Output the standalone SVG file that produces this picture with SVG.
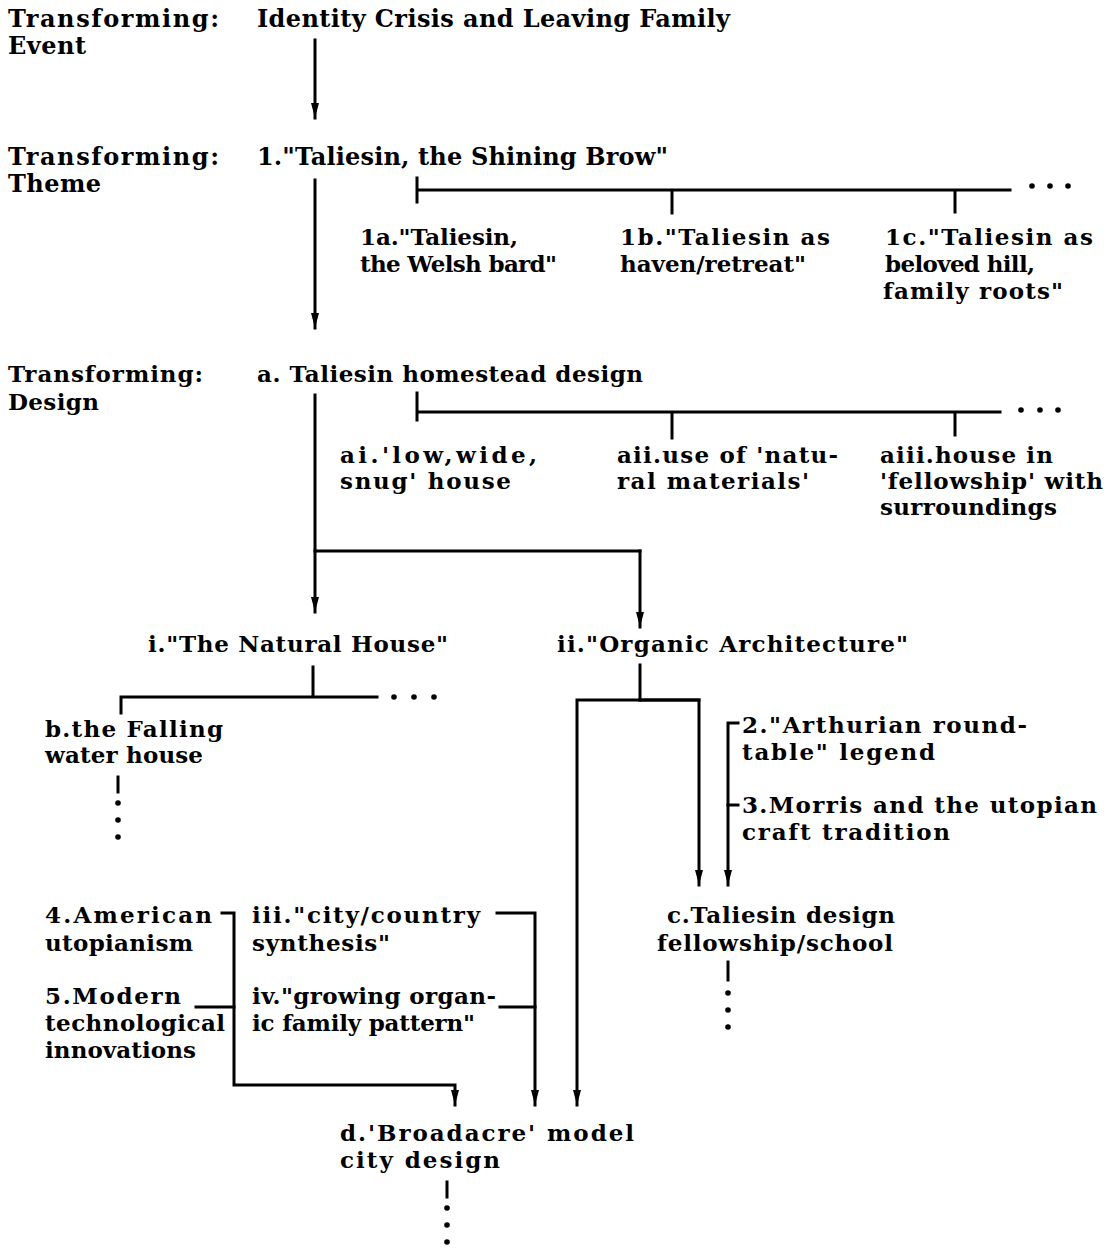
<svg xmlns="http://www.w3.org/2000/svg" width="1112" height="1250" viewBox="0 0 1112 1250">
  <style>
    .t { font-family: "DejaVu Serif", "Liberation Serif", serif; font-weight: bold; font-size: 23px; fill: #000; }
    .h { font-size: 24px; }
    .ln { fill: none; stroke: #000; stroke-width: 3; stroke-linecap: square; stroke-linejoin: miter; }
    .arr { marker-end: url(#ah); }
    .dot { fill: #000; }
  </style>
  <defs>
    <marker id="ah" viewBox="0 -5 16 10" markerWidth="16" markerHeight="10" refX="15" refY="0" orient="auto" markerUnits="userSpaceOnUse">
      <path d="M0,-4 L15,0 L0,4 z" fill="#000"/>
    </marker>
  </defs>
  <rect width="1112" height="1250" fill="#fff"/>

  <!-- row labels -->
  <g id="label-event"><text class="t h" x="8" y="27" textLength="211">Transforming:</text><text class="t h" x="8" y="54" textLength="78">Event</text></g>
  <g id="label-theme"><text class="t h" x="8" y="165" textLength="211">Transforming:</text><text class="t h" x="8" y="192" textLength="93">Theme</text></g>
  <g id="label-design"><text class="t" x="8" y="382" textLength="195">Transforming:</text><text class="t" x="8" y="410" textLength="91">Design</text></g>

  <!-- theme level -->
  <g id="event"><text class="t h" x="257" y="27" textLength="473">Identity Crisis and Leaving Family</text></g>
  <g id="theme-1"><text class="t h" x="257" y="165" textLength="411">1."Taliesin, the Shining Brow"</text></g>
  <g id="theme-1a"><text class="t" x="360" y="245" textLength="158">1a."Taliesin,</text><text class="t" x="360" y="272" textLength="197">the Welsh bard"</text></g>
  <g id="theme-1b"><text class="t" x="620" y="245" textLength="210">1b."Taliesin as</text><text class="t" x="620" y="272" textLength="186">haven/retreat"</text></g>
  <g id="theme-1c"><text class="t" x="885" y="245" textLength="208">1c."Taliesin as</text><text class="t" x="885" y="272" textLength="150">beloved hill,</text><text class="t" x="883" y="299" textLength="180">family roots"</text></g>

  <!-- design level -->
  <g id="design-a"><text class="t" x="257" y="382" textLength="386">a. Taliesin homestead design</text></g>
  <g id="design-ai"><text class="t" x="340" y="463" textLength="197">ai.'low,wide,</text><text class="t" x="340" y="489" textLength="171">snug' house</text></g>
  <g id="design-aii"><text class="t" x="617" y="463" textLength="221">aii.use of 'natu-</text><text class="t" x="617" y="489" textLength="192">ral materials'</text></g>
  <g id="design-aiii"><text class="t" x="880" y="463" textLength="173">aiii.house in</text><text class="t" x="880" y="489" textLength="223">'fellowship' with</text><text class="t" x="880" y="515" textLength="177">surroundings</text></g>

  <g id="node-i"><text class="t" x="148" y="652" textLength="300">i."The Natural House"</text></g>
  <g id="node-ii"><text class="t" x="557" y="652" textLength="351">ii."Organic Architecture"</text></g>
  <g id="node-b"><text class="t" x="45" y="737" textLength="178">b.the Falling</text><text class="t" x="45" y="763" textLength="158">water house</text></g>
  <g id="node-2"><text class="t" x="742" y="733" textLength="285">2."Arthurian round-</text><text class="t" x="742" y="760" textLength="193">table" legend</text></g>
  <g id="node-3"><text class="t" x="742" y="813" textLength="355">3.Morris and the utopian</text><text class="t" x="742" y="840" textLength="208">craft tradition</text></g>
  <g id="node-c"><text class="t" x="667" y="923" textLength="228">c.Taliesin design</text><text class="t" x="657" y="951" textLength="236">fellowship/school</text></g>
  <g id="node-4"><text class="t" x="45" y="923" textLength="167">4.American</text><text class="t" x="45" y="951" textLength="148">utopianism</text></g>
  <g id="node-5"><text class="t" x="45" y="1004" textLength="136">5.Modern</text><text class="t" x="45" y="1031" textLength="180">technological</text><text class="t" x="45" y="1058" textLength="151">innovations</text></g>
  <g id="node-iii"><text class="t" x="252" y="923" textLength="228">iii."city/country</text><text class="t" x="252" y="951" textLength="138">synthesis"</text></g>
  <g id="node-iv"><text class="t" x="252" y="1004" textLength="244">iv."growing organ-</text><text class="t" x="252" y="1031" textLength="223">ic family pattern"</text></g>
  <g id="node-d"><text class="t" x="340" y="1141" textLength="294">d.'Broadacre' model</text><text class="t" x="340" y="1168" textLength="160">city design</text></g>

  <!-- connectors -->
  <g id="connectors">
    <path class="ln arr" d="M315,40 V118"/>
    <path class="ln arr" d="M315,180 V328"/>
    <path class="ln" d="M417,178 V202 M417,190 H1010 M672,190 V213 M955,190 V212"/>
    <path class="ln" d="M315,395 V551 H640"/>
    <path class="ln arr" d="M315,551 V612"/>
    <path class="ln arr" d="M640,551 V627"/>
    <path class="ln" d="M417,393 V420 M417,412 H1000 M672,412 V438 M955,412 V435"/>
    <path class="ln" d="M313,667 V697 M121,713 V697 H377"/>
    <path class="ln" d="M118,777 V792"/>
    <path class="ln" d="M640,665 V700"/>
    <path class="ln arr" d="M699,700 H577 V1105"/>
    <path class="ln arr" d="M640,700 H699 V885"/>
    <path class="ln arr" d="M738,723 H728 V885"/>
    <path class="ln" d="M738,805 H728"/>
    <path class="ln" d="M728,962 V980"/>
    <path class="ln arr" d="M222,913 H234 V1085 H455 V1105"/>
    <path class="ln" d="M196,1007 H234"/>
    <path class="ln arr" d="M497,913 H535 V1105"/>
    <path class="ln" d="M500,1007 H535"/>
    <path class="ln" d="M447,1182 V1197"/>
    <!-- continuation dots -->
    <circle class="dot" cx="1032" cy="186" r="2.8"/><circle class="dot" cx="1050" cy="186" r="2.8"/><circle class="dot" cx="1068" cy="186" r="2.8"/>
    <circle class="dot" cx="1021" cy="410" r="2.8"/><circle class="dot" cx="1040" cy="410" r="2.8"/><circle class="dot" cx="1058" cy="410" r="2.8"/>
    <circle class="dot" cx="394" cy="697" r="2.8"/><circle class="dot" cx="414" cy="697" r="2.8"/><circle class="dot" cx="434" cy="697" r="2.8"/>
    <circle class="dot" cx="118" cy="803" r="2.8"/><circle class="dot" cx="118" cy="820" r="2.8"/><circle class="dot" cx="118" cy="837" r="2.8"/>
    <circle class="dot" cx="728" cy="993" r="2.8"/><circle class="dot" cx="728" cy="1010" r="2.8"/><circle class="dot" cx="728" cy="1027" r="2.8"/>
    <circle class="dot" cx="447" cy="1208" r="2.8"/><circle class="dot" cx="447" cy="1225" r="2.8"/><circle class="dot" cx="447" cy="1242" r="2.8"/>
  </g>
</svg>
